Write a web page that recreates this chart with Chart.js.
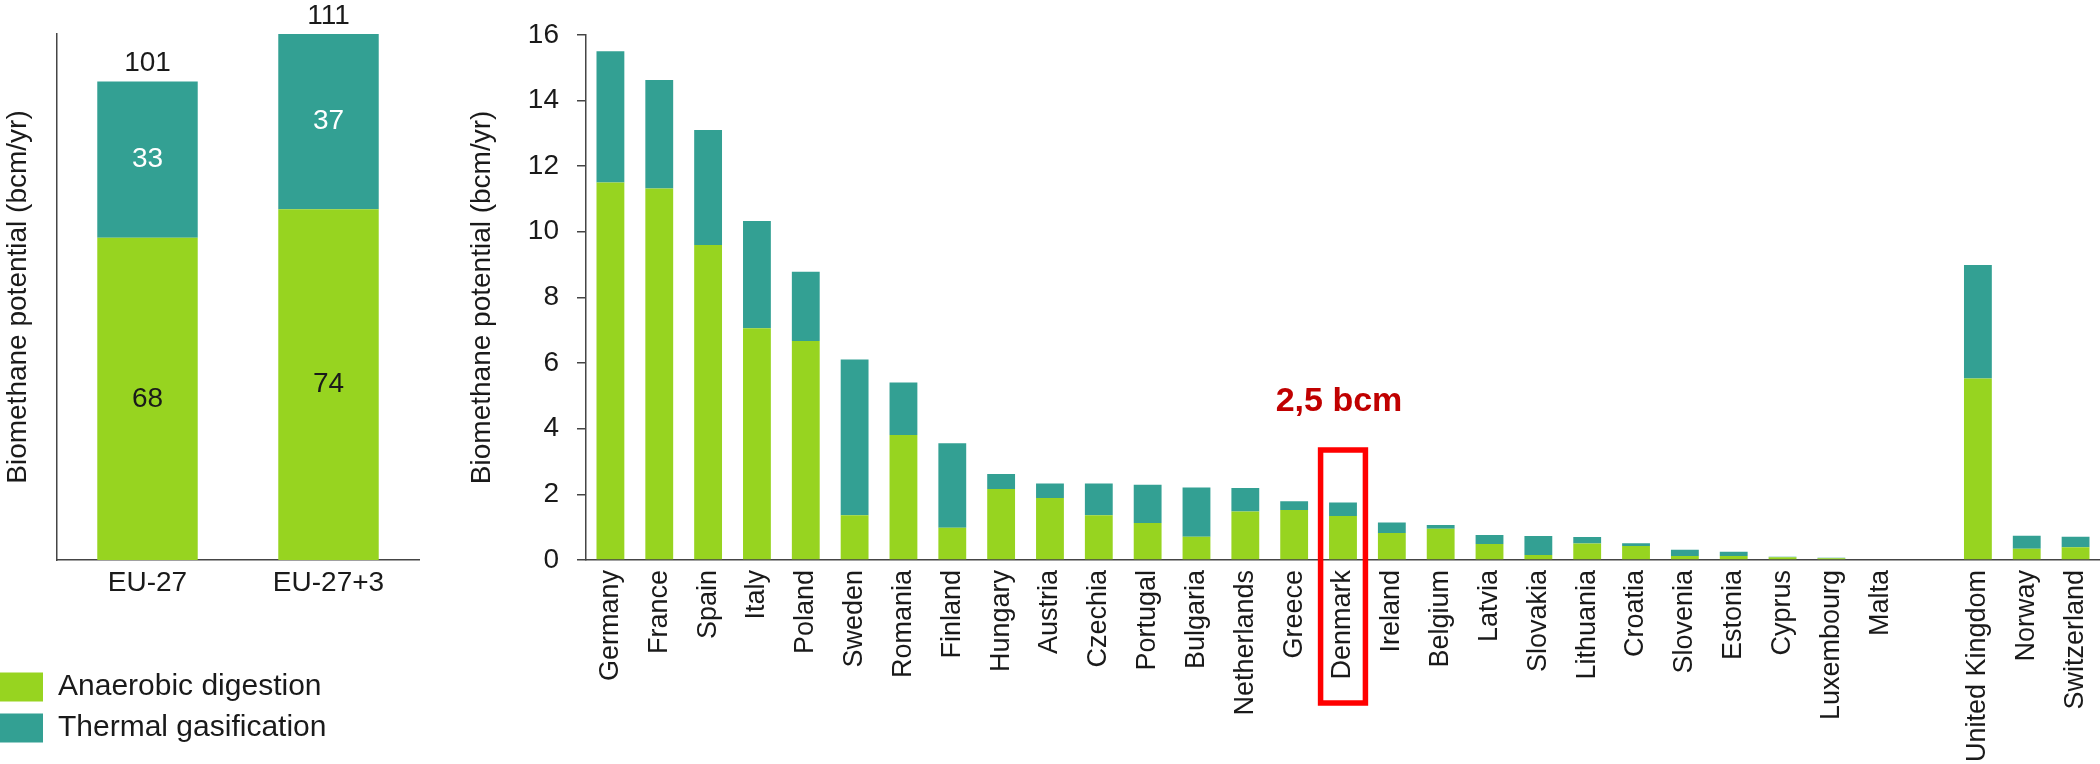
<!DOCTYPE html>
<html>
<head>
<meta charset="utf-8">
<script src="https://cdn.jsdelivr.net/npm/chart.js@4"></script>
<style>
  body { margin: 0; background: #fff; width: 2100px; height: 764px; overflow: hidden; position: relative; }
  #left { position: absolute; left: -11px; top: 0; }
  #right { position: absolute; left: 440px; top: 0; }
</style>
</head>
<body>
<canvas id="left" width="441" height="764"></canvas>
<canvas id="right" width="1660" height="764"></canvas>
<script>
// totals panel
var regions = ["EU-27", "EU-27+3"];
var regionAnaerobic = [68, 74];
var regionThermal = [33, 37];

// per country panel (bcm/yr), empty slot before the non-EU countries
var countries = ["Germany", "France", "Spain", "Italy", "Poland", "Sweden", "Romania", "Finland",
  "Hungary", "Austria", "Czechia", "Portugal", "Bulgaria", "Netherlands", "Greece", "Denmark",
  "Ireland", "Belgium", "Latvia", "Slovakia", "Lithuania", "Croatia", "Slovenia", "Estonia",
  "Cyprus", "Luxembourg", "Malta", "", "United Kingdom", "Norway", "Switzerland"];
var anaerobic = [11.5, 11.32, 9.6, 7.06, 6.67, 1.36, 3.81, 0.98,
  2.16, 1.89, 1.36, 1.13, 0.71, 1.48, 1.52, 1.34,
  0.82, 0.95, 0.49, 0.15, 0.5, 0.43, 0.12, 0.12,
  0.08, 0.05, 0, null, 5.53, 0.34, 0.39];
var thermal = [4.0, 3.3, 3.5, 3.27, 2.11, 4.75, 1.6, 2.58,
  0.46, 0.44, 0.97, 1.16, 1.5, 0.71, 0.27, 0.41,
  0.32, 0.12, 0.27, 0.58, 0.2, 0.08, 0.19, 0.13,
  0.02, 0.02, 0, null, 3.46, 0.4, 0.32];
var yTicks = [0, 2, 4, 6, 8, 10, 12, 14, 16];

var GREEN = '#97d420';
var TEAL = '#33a093';
var TEXT = '#1a1a1a';
var AXIS = '#454545';

Chart.defaults.font.family = '"Liberation Sans", Arial, sans-serif';
Chart.defaults.color = TEXT;
Chart.defaults.animation = false;

var titleText = 'Biomethane potential (bcm/yr)';

// numbers inside / above the two total bars
var totalLabels = {
  id: 'totalLabels',
  afterDatasetsDraw: function(chart) {
    var ctx = chart.ctx;
    var m0 = chart.getDatasetMeta(0), m1 = chart.getDatasetMeta(1);
    ctx.save();
    ctx.font = '28px "Liberation Sans", Arial, sans-serif';
    ctx.textAlign = 'center';
    ctx.textBaseline = 'middle';
    for (var i = 0; i < regions.length; i++) {
      var a = m0.data[i], t = m1.data[i];
      ctx.fillStyle = TEXT;
      ctx.fillText(regionAnaerobic[i], a.x, (a.y + a.base) / 2);
      ctx.fillStyle = '#ffffff';
      ctx.fillText(regionThermal[i], t.x, (t.y + t.base) / 2);
      ctx.fillStyle = TEXT;
      ctx.fillText(regionAnaerobic[i] + regionThermal[i], t.x, t.y - 18);
    }
    ctx.restore();
  }
};

// red note around Denmark
var denmarkNote = {
  id: 'denmarkNote',
  afterDraw: function(chart) {
    var ctx = chart.ctx;
    var xs = chart.scales.x, ys = chart.scales.y;
    var idx = countries.indexOf('Denmark');
    var cx = xs.getPixelForValue(idx);
    var half = (xs.getPixelForValue(1) - xs.getPixelForValue(0)) / 2;
    var base = ys.getPixelForValue(0);
    ctx.save();
    ctx.strokeStyle = '#ff0000';
    ctx.lineWidth = 5.5;
    ctx.strokeRect(cx - half + 2, base - 110, half * 2 - 4, 253);
    ctx.fillStyle = '#c00000';
    ctx.font = 'bold 34px "Liberation Sans", Arial, sans-serif';
    ctx.textAlign = 'center';
    ctx.textBaseline = 'middle';
    ctx.fillText('2,5 bcm', cx - 4, base - 158);
    ctx.restore();
  }
};

new Chart(document.getElementById('left'), {
  type: 'bar',
  data: {
    labels: regions,
    datasets: [
      { label: 'Anaerobic digestion', data: regionAnaerobic, backgroundColor: GREEN },
      { label: 'Thermal gasification', data: regionThermal, backgroundColor: TEAL }
    ]
  },
  options: {
    responsive: false,
    layout: { padding: { top: 34, right: 11, bottom: 11, left: 0 } },
    datasets: { bar: { categoryPercentage: 1, barPercentage: 0.555 } },
    plugins: {
      tooltip: { enabled: false },
      legend: {
        position: 'bottom',
        align: 'start',
        labels: { boxWidth: 43, boxHeight: 29, padding: 11, color: TEXT,
          font: { size: 30 } }
      }
    },
    scales: {
      x: {
        stacked: true,
        grid: { display: false, drawTicks: false },
        border: { display: true, color: AXIS, width: 1.5 },
        ticks: { padding: 6, font: { size: 28 }, color: TEXT },
        afterFit: function(s) { s.height = 101; }
      },
      y: {
        stacked: true,
        min: 0, max: 111,
        grid: { display: false, drawTicks: false },
        border: { display: true, color: AXIS, width: 1.5 },
        ticks: { display: false },
        title: { display: true, text: titleText, font: { size: 28 }, color: TEXT,
          padding: { top: 12.7, bottom: 0 } },
        afterFit: function(s) { s.width = 68; }
      }
    }
  },
  plugins: [totalLabels]
});

new Chart(document.getElementById('right'), {
  type: 'bar',
  data: {
    labels: countries,
    datasets: [
      { label: 'Anaerobic digestion', data: anaerobic, backgroundColor: GREEN },
      { label: 'Thermal gasification', data: thermal, backgroundColor: TEAL }
    ]
  },
  options: {
    responsive: false,
    layout: { padding: { top: 34, right: 0, bottom: 0, left: 0 } },
    datasets: { bar: { categoryPercentage: 1, barPercentage: 0.57 } },
    plugins: { legend: { display: false }, tooltip: { enabled: false } },
    scales: {
      x: {
        stacked: true,
        grid: { display: false, drawTicks: false },
        border: { display: true, color: AXIS, width: 1.5 },
        ticks: { autoSkip: false, minRotation: 90, maxRotation: 90, padding: 10,
          font: { size: 27 }, color: TEXT },
        afterFit: function(s) { s.height = 204; s.paddingLeft = 0; s.paddingRight = 0; }
      },
      y: {
        stacked: true,
        min: 0, max: 16,
        afterBuildTicks: function(s) { s.ticks = yTicks.map(function(v) { return { value: v }; }); },
        grid: { drawOnChartArea: false, drawTicks: true, tickLength: 9, color: AXIS, lineWidth: 1.5 },
        border: { display: true, color: AXIS, width: 1.5 },
        ticks: { padding: 18, font: { size: 28 }, color: TEXT },
        title: { display: true, text: titleText, font: { size: 28 }, color: TEXT,
          padding: { top: 25, bottom: 0 } },
        afterFit: function(s) { s.width = 146; }
      }
    }
  },
  plugins: [denmarkNote]
});
</script>
</body>
</html>
